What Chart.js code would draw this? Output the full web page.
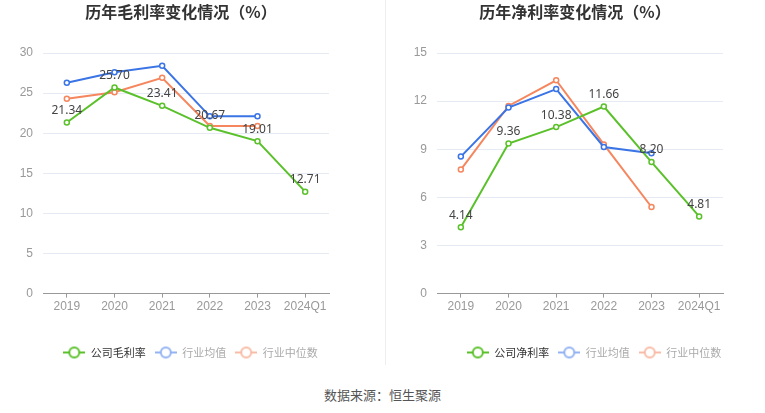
<!DOCTYPE html>
<html>
<head>
<meta charset="utf-8">
<script src="https://cdn.jsdelivr.net/npm/chart.js@4.4.0/dist/chart.umd.min.js"></script>
<style>
  body { margin: 0; background: #fff; font-family: "Noto Sans CJK SC", "Noto Sans", sans-serif; }
  #wrap { position: relative; width: 765px; height: 413px; overflow: hidden; }
  .title { position: absolute; top: -1px; width: 382px; text-align: center; font-size: 16px; font-weight: bold; color: #333; }
  .box { position: absolute; top: 0; width: 382px; height: 372px; }
  #divider { position: absolute; left: 385px; top: 0; width: 1px; height: 365px; background: #eee; }
  #source { position: absolute; top: 385px; width: 765px; text-align: center; font-size: 13px; color: #555; }
</style>
</head>
<body>
<div id="wrap">
  <div class="box" style="left:0"><canvas id="chartGross"></canvas></div>
  <div class="box" style="left:383px"><canvas id="chartNet"></canvas></div>
  <div class="title" style="left:-10px">历年毛利率变化情况（%）</div>
  <div class="title" style="left:384px">历年净利率变化情况（%）</div>
  <div id="divider"></div>
  <div id="source">数据来源：恒生聚源</div>
</div>
<script>
// categories and values
const years = ['2019', '2020', '2021', '2022', '2023', '2024Q1'];

const grossCompany = [21.34, 25.70, 23.41, 20.67, 19.01, 12.71];
const grossIndustryAvg = [26.3, 27.6, 28.4, 22.1, 22.1, null];
const grossIndustryMedian = [24.3, 25.1, 26.9, 20.9, 20.9, null];
const grossTicks = [0, 5, 10, 15, 20, 25, 30];

const netCompany = [4.14, 9.36, 10.38, 11.66, 8.20, 4.81];
const netIndustryAvg = [8.54, 11.6, 12.75, 9.14, 8.75, null];
const netIndustryMedian = [7.73, 11.7, 13.3, 9.3, 5.4, null];
const netTicks = [0, 3, 6, 9, 12, 15];

const GREEN = '#5bc12b', BLUE = '#3a74e6', ORANGE = '#f5865e';
const LEGEND_ICON = [GREEN, '#93b3f2', '#f8bca6'];
const LEGEND_TEXT = ['#333', '#aaa', '#aaa'];

// little "-o-" icon for the legend
function legendIcon(color) {
  const c = document.createElement('canvas');
  c.width = 22; c.height = 14;
  const ctx = c.getContext('2d');
  ctx.strokeStyle = color;
  ctx.lineWidth = 2;
  ctx.beginPath(); ctx.moveTo(0, 7); ctx.lineTo(22, 7); ctx.stroke();
  ctx.fillStyle = '#fff';
  ctx.beginPath(); ctx.arc(11, 7, 5, 0, Math.PI * 2); ctx.fill(); ctx.stroke();
  return c;
}
const icons = LEGEND_ICON.map(legendIcon);

// value labels above the company series only
const valueLabels = {
  id: 'valueLabels',
  afterDatasetsDraw(chart) {
    const ctx = chart.ctx;
    const meta = chart.getDatasetMeta(0);
    ctx.save();
    ctx.font = '12px "Noto Sans", sans-serif';
    ctx.fillStyle = '#444';
    ctx.textAlign = 'center';
    ctx.textBaseline = 'bottom';
    meta.data.forEach((pt, i) => {
      const v = chart.data.datasets[0].data[i];
      if (v == null) return;
      ctx.fillText(v.toFixed(2), pt.x, pt.y - 6);
    });
    ctx.restore();
  }
};

// the legend sits a bit right of the plot centre in the reference
function legendShift(dx) {
  return {
    id: 'legendShift',
    afterLayout(chart) {
      if (!chart.legend) return;
      chart.legend.left += dx;
      chart.legend.right += dx;
    }
  };
}

function series(label, data, color) {
  return {
    label, data,
    borderColor: color, backgroundColor: '#fff',
    borderWidth: 2, pointRadius: 2.5, pointBorderWidth: 1.5,
    pointBackgroundColor: '#fff', pointBorderColor: color,
    tension: 0, spanGaps: false
  };
}

function makeChart(id, names, company, avg, median, ticks, axisWidth, padRight, shift) {
  const max = ticks[ticks.length - 1];
  return new Chart(document.getElementById(id), {
    type: 'line',
    data: {
      labels: years,
      datasets: [
        series(names[0], company, GREEN),
        series(names[1], avg, BLUE),
        series(names[2], median, ORANGE)
      ]
    },
    options: {
      responsive: true,
      maintainAspectRatio: false,
      animation: false,
      layout: { padding: { top: 53, right: padRight, left: 0, bottom: 4 } },
      plugins: {
        title: { display: false },
        tooltip: { enabled: false },
        legend: {
          position: 'bottom',
          labels: {
            usePointStyle: true,
            pointStyleWidth: 22,
            boxHeight: 12,
            padding: 9,
            font: { size: 11, family: '"Noto Sans CJK SC", sans-serif' },
            generateLabels(chart) {
              return chart.data.datasets.map((ds, i) => ({
                text: ds.label,
                pointStyle: icons[i],
                fontColor: LEGEND_TEXT[i],
                strokeStyle: 'transparent',
                fillStyle: 'transparent',
                lineWidth: 0,
                datasetIndex: i,
                hidden: false
              }));
            }
          }
        }
      },
      scales: {
        x: {
          offset: true,
          grid: { display: true, drawOnChartArea: false, drawTicks: true, tickLength: 4, color: '#999', offset: false },
          border: { display: true, color: '#999' },
          ticks: { color: '#999', font: { size: 12 }, padding: 2, maxRotation: 0, autoSkip: false },
          afterFit(scale) { scale.height += 22; }
        },
        y: {
          min: 0, max: max,
          afterBuildTicks(scale) { scale.ticks = ticks.map(v => ({ value: v })); },
          afterFit(scale) { scale.width = axisWidth; },
          grid: { color: '#e6eaf2', drawTicks: false },
          border: { display: false },
          ticks: { color: '#999', font: { size: 12 }, padding: 10 }
        }
      }
    },
    plugins: [valueLabels, legendShift(shift)]
  });
}

makeChart('chartGross', ['公司毛利率', '行业均值', '行业中位数'], grossCompany, grossIndustryAvg, grossIndustryMedian, grossTicks, 43, 53, 26);
makeChart('chartNet', ['公司净利率', '行业均值', '行业中位数'], netCompany, netIndustryAvg, netIndustryMedian, netTicks, 54, 42, 41);
</script>
</body>
</html>
